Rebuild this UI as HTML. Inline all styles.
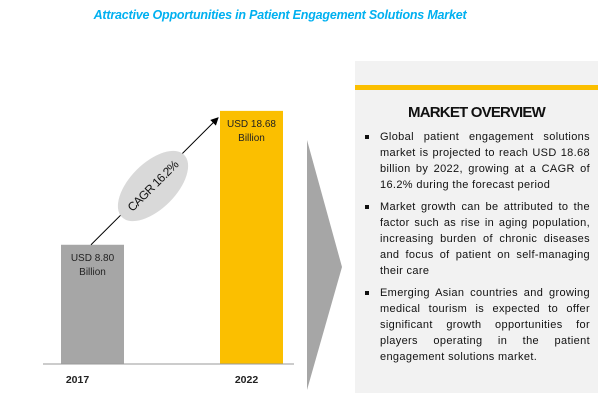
<!DOCTYPE html>
<html><head><meta charset="utf-8"><style>
body{margin:0;width:603px;height:407px;background:#fff;font-family:"Liberation Sans",sans-serif;position:relative;overflow:hidden}
#title{position:absolute;left:0;width:560px;top:8px;text-align:center;color:#00b0f0;font-weight:bold;font-style:italic;font-size:12.5px;letter-spacing:-0.2px}
#panel{position:absolute;left:355px;top:61px;width:243px;height:332px;background:#f2f2f2}
#ybar{position:absolute;left:0;top:24px;width:243px;height:5px;background:#fbbf00}
#ph{position:absolute;top:43px;left:0;width:243px;text-align:center;font-weight:bold;font-size:15px;letter-spacing:-0.8px;color:#111}
ul{position:absolute;left:8px;top:68px;width:227px;margin:0;padding:0;list-style:none}
li{position:relative;padding-left:17px;font-size:11px;letter-spacing:0.35px;line-height:16px;text-align:justify;color:#111;margin-bottom:6px}
li:before{content:"";position:absolute;left:2px;top:6px;width:4px;height:4px;background:#111}
</style></head><body>
<div id="title">Attractive Opportunities in Patient Engagement Solutions Market</div>
<svg id="chart" width="350" height="407" style="position:absolute;left:0;top:0"></svg>
<div id="panel">
<div id="ybar"></div>
<div id="ph">MARKET OVERVIEW</div>
<ul>
<li>Global patient engagement solutions market is projected to reach USD 18.68 billion by 2022, growing at a CAGR of 16.2% during the forecast period</li>
<li>Market growth can be attributed to the factor such as rise in aging population, increasing burden of chronic diseases and focus of patient on self-managing their care</li>
<li>Emerging Asian countries and growing medical tourism is expected to offer significant growth opportunities for players operating in the patient engagement solutions market.</li>
</ul></div>
<script>
const categories=["2017","2022"];
const values=[8.80,18.68];
const valueLabels=["USD 8.80","USD 18.68"];
const colors=["#a6a6a6","#fbbf00"];
const NS="http://www.w3.org/2000/svg";
const svg=document.getElementById('chart');
const base=364,scale=13.55,barX=[61,220],barW=63;
function y(v){return base-v*scale;}
function mk(t,a){const e=document.createElementNS(NS,t);for(const k in a)e.setAttribute(k,a[k]);svg.appendChild(e);return e;}
const defs=mk('defs',{});
defs.innerHTML='<marker id="ah" markerWidth="8" markerHeight="8" refX="7" refY="4" orient="auto"><path d="M0,0L8,4L0,8z" fill="#000"/></marker>';
values.forEach((v,i)=>{
 const r=mk('rect',{x:barX[i],y:y(v),width:barW,height:v*scale,fill:colors[i]});
 
 
 const t1=mk('text',{x:barX[i]+barW/2,y:y(v)+16,'text-anchor':'middle','font-size':'10','fill':'#222'});t1.textContent=valueLabels[i];
 
 
 const t2=mk('text',{x:barX[i]+barW/2,y:y(v)+30,'text-anchor':'middle','font-size':'10','fill':'#222'});t2.textContent="Billion";
 
 
 const t3=mk('text',{x:barX[i]+barW/2-15+(i?10:0),y:383,'text-anchor':'middle','font-size':'10.5','font-weight':'bold','fill':'#222'});t3.textContent=categories[i];
 
 
});
const ax=mk('line',{x1:43,y1:base,x2:294,y2:base,stroke:'#999','stroke-width':1});


const ar=mk('line',{x1:91,y1:y(values[0]),x2:218,y2:y(values[1])+7,stroke:'#000','stroke-width':1,'marker-end':'url(#ah)'});


const el=mk('ellipse',{cx:153,cy:186,rx:44,ry:23,fill:'#d9d9d9',transform:'rotate(-45 153 186)'});


const ct=mk('text',{x:153,y:190,'text-anchor':'middle','font-size':'12','fill':'#111','letter-spacing':'-0.6',transform:'rotate(-45 153 186)'});ct.textContent="CAGR 16.2%";


const ch=mk('polygon',{points:'307,140 342,267 307,390',fill:'#a6a6a6'});


</script>
</body></html>
